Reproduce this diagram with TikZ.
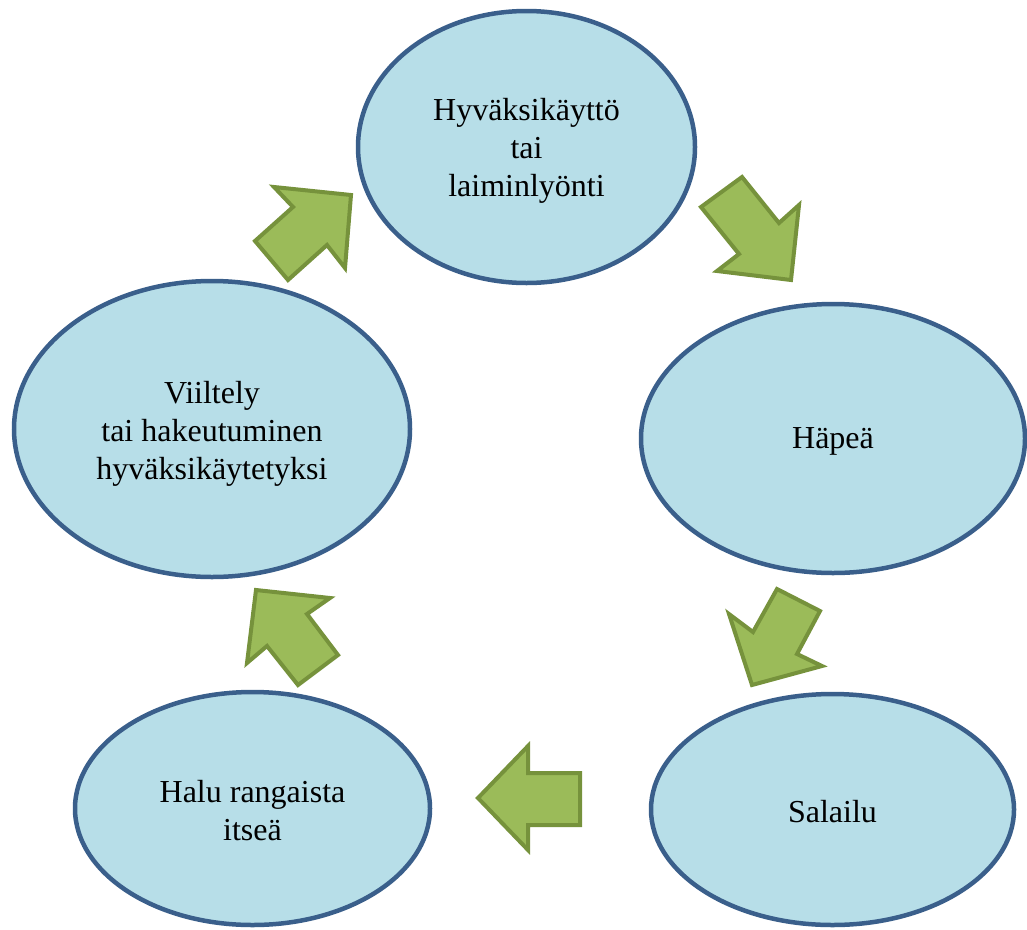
\documentclass[tikz,border=0pt]{standalone}
\usepackage{fontspec}
\setmainfont{Liberation Serif}
\usetikzlibrary{shapes.geometric}
\definecolor{ellfill}{HTML}{B7DEE8}
\definecolor{elldraw}{HTML}{3A5F8B}
\definecolor{arrfill}{HTML}{9BBB59}
\definecolor{arrdraw}{HTML}{76923C}
\tikzset{
  cyc/.style={ellipse, draw=elldraw, fill=ellfill, line width=4.5pt, inner sep=0pt},
  cyctext/.style={align=center, font=\fontsize{32}{38}\selectfont, inner sep=0pt},
  blockarrow/.style={draw=arrdraw, fill=arrfill, line width=4pt, line join=miter}
}
\begin{document}
\begin{tikzpicture}[x=1pt,y=-1pt]
\useasboundingbox (0,0) rectangle (1027,929);
\node[cyc, minimum width=337pt, minimum height=272pt] (top) at (526.5,147) {};
\node[cyctext, yshift=-3.5pt] (toptext) at (top.center) {Hyväksikäyttö\\tai\\laiminlyönti};
\node[cyc, minimum width=384pt, minimum height=269pt] (hapea) at (833,438.5) {};
\node[cyctext, yshift=-3pt] (hapeatext) at (hapea.center) {Häpeä};
\node[cyc, minimum width=363pt, minimum height=231pt] (salailu) at (832.5,809.5) {};
\node[cyctext, yshift=-2.5pt] (salailutext) at (salailu.center) {Salailu};
\node[cyc, minimum width=355pt, minimum height=233pt] (halu) at (252.5,808.5) {};
\node[cyctext, yshift=-2.5pt] (halutext) at (halu.center) {Halu rangaista\\itseä};
\node[cyc, minimum width=396pt, minimum height=296pt] (viiltely) at (212,429) {};
\node[cyctext, yshift=-5pt] (viiltelytext) at (viiltely.center) {Viiltely\\tai hakeutuminen\\hyväksikäytetyksi};
% block arrows
\draw[blockarrow] (274,187) -- (351,195) -- (345,268) -- (327,245) -- (288,280) -- (255,241) -- (293,207) -- cycle;
\draw[blockarrow] (742,177) -- (779,223) -- (799,205) -- (791,280) -- (717,271) -- (739,254) -- (701,207) -- cycle;
\draw[blockarrow] (777,589) -- (820,611) -- (797,654) -- (822,666) -- (752,685) -- (729,614) -- (753,632) -- cycle;
\draw[blockarrow] (580,773) -- (528,773) -- (528,746) -- (478,798) -- (528,850) -- (528,825) -- (580,825) -- cycle;
\draw[blockarrow] (256,590) -- (330,598) -- (307,614) -- (338,655) -- (298,685) -- (267,646) -- (247,663) -- cycle;
\end{tikzpicture}
\end{document}
